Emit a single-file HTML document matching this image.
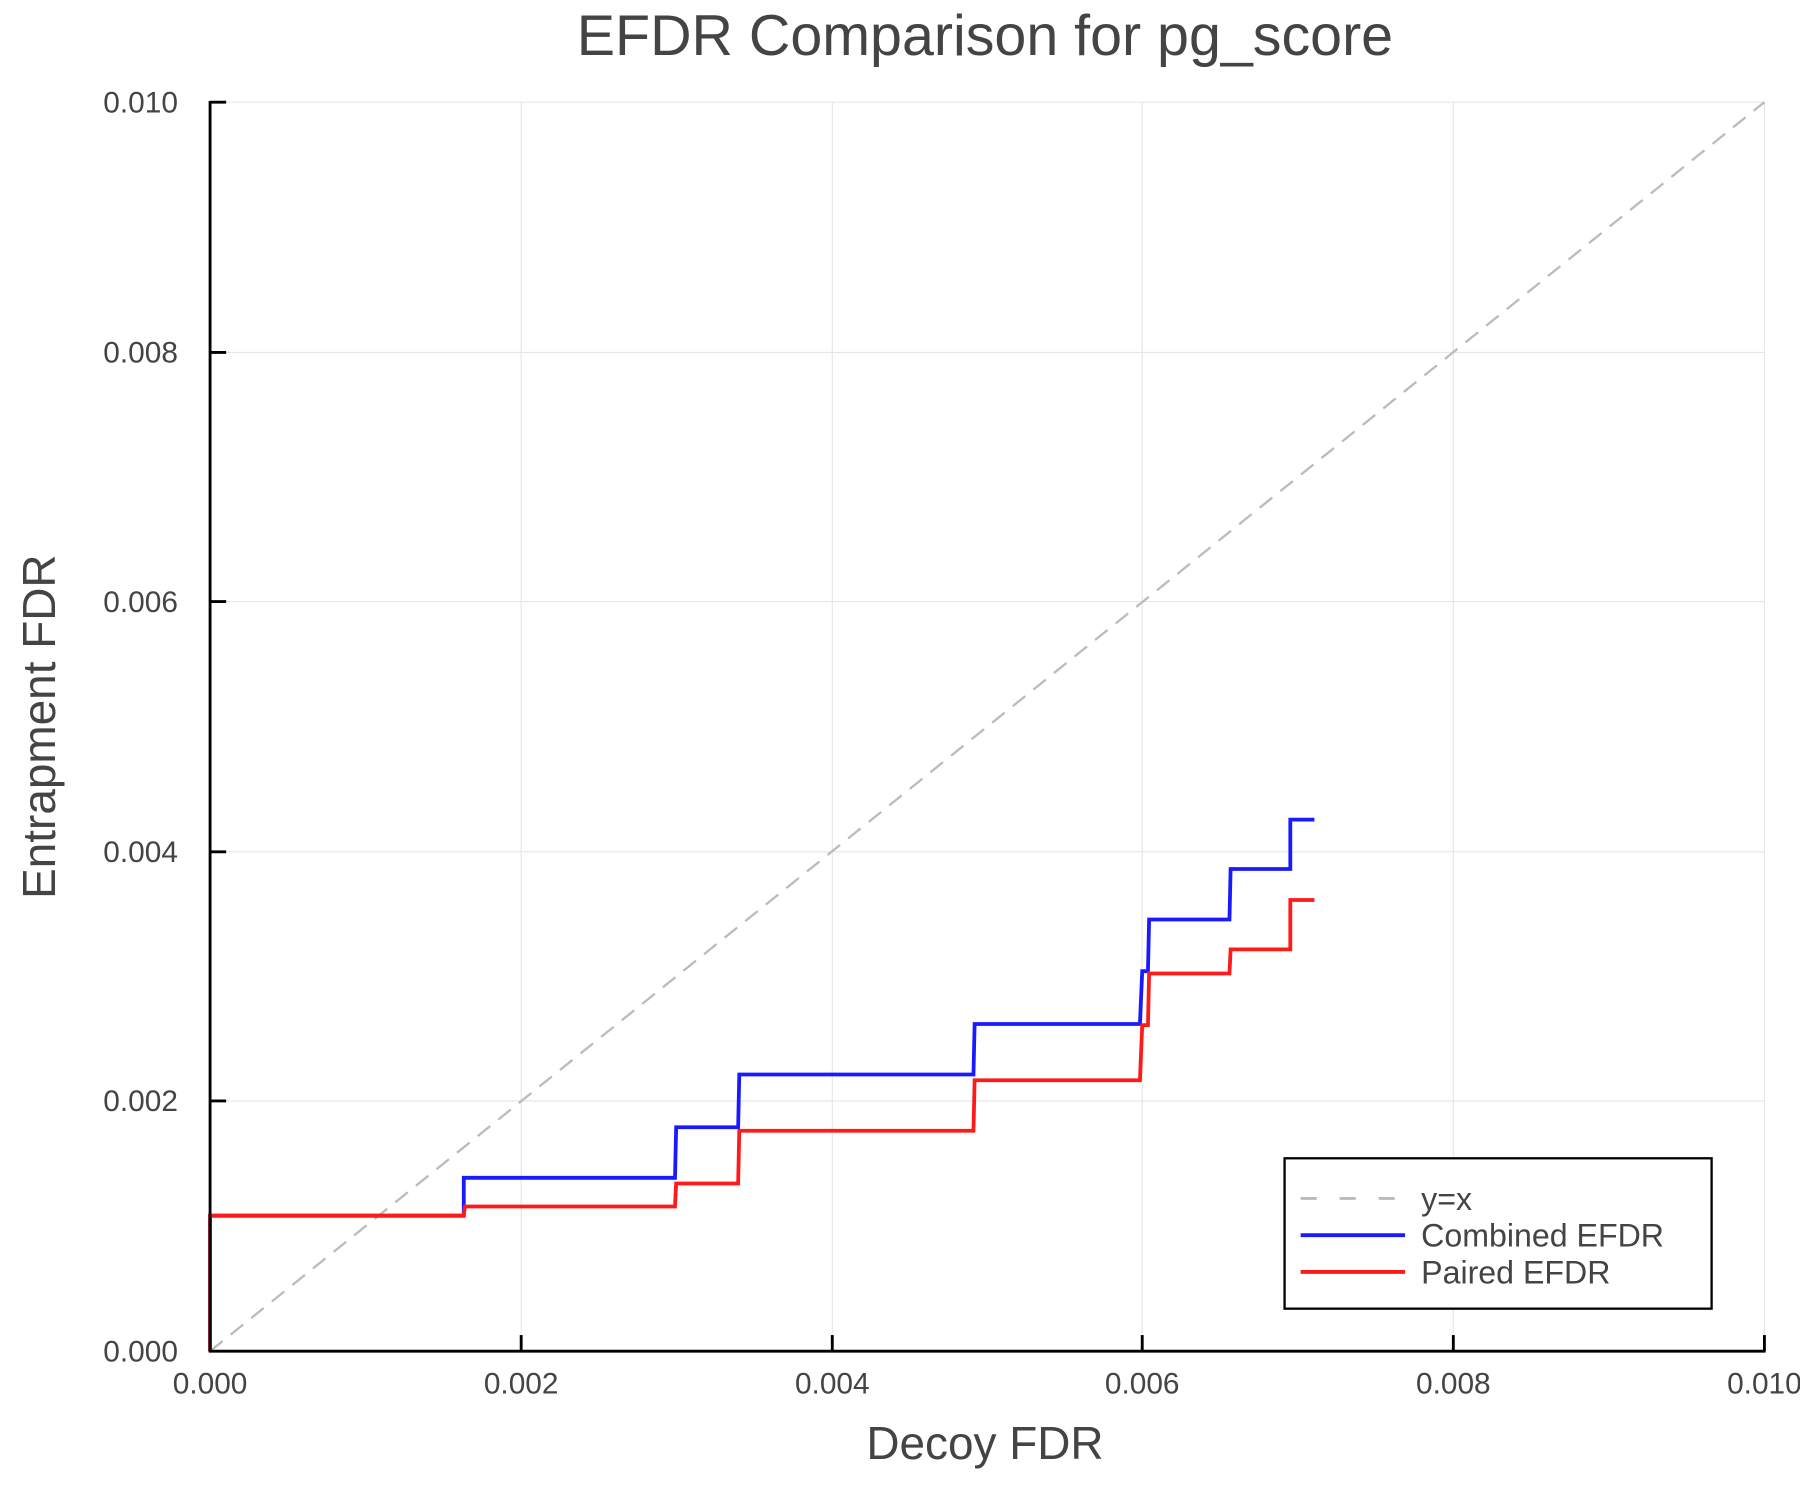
<!DOCTYPE html>
<html><head><meta charset="utf-8"><style>html,body{margin:0;padding:0;background:#fff}svg{display:block}</style></head>
<body>
<svg width="1800" height="1500" viewBox="0 0 1568 1306.67" preserveAspectRatio="none" font-family="Liberation Sans, sans-serif">
<rect width="1568" height="1307" fill="#fff"/>
<g stroke="#e6e6e6" stroke-width="1">
<line x1="454" y1="89" x2="454" y2="1177"/><line x1="725" y1="89" x2="725" y2="1177"/><line x1="995" y1="89" x2="995" y2="1177"/><line x1="1266" y1="89" x2="1266" y2="1177"/><line x1="1537" y1="89" x2="1537" y2="1177"/>
<line x1="183" y1="89" x2="1537" y2="89"/><line x1="183" y1="307" x2="1537" y2="307"/><line x1="183" y1="524" x2="1537" y2="524"/><line x1="183" y1="742" x2="1537" y2="742"/><line x1="183" y1="959" x2="1537" y2="959"/>
</g>
<line x1="183" y1="1177" x2="1537" y2="89" stroke="#bbb" stroke-width="2" stroke-dasharray="14,9"/>
<polyline fill="none" stroke="#1a1aff" stroke-width="3.3" points="183,1177 183,1059 404,1059 404,1026 588,1026 589,982 643,982 644,936 848,936 849,892 993,892 995,846 1000,846 1001,801 1071,801 1072,757 1124,757 1124,714 1145,714"/>
<polyline fill="none" stroke="#ff1a1a" stroke-width="3.3" points="183,1177 183,1059 404,1059 405,1051 588,1051 589,1031 643,1031 644,985 848,985 849,941 993,941 995,893 1000,893 1001,848 1071,848 1072,827 1124,827 1124,784 1145,784"/>
<g stroke="#000" stroke-width="2.5" fill="none">
<line x1="183" y1="88" x2="183" y2="1178"/><line x1="182" y1="1177" x2="1538" y2="1177"/>
<line x1="454" y1="1177" x2="454" y2="1163"/><line x1="725" y1="1177" x2="725" y2="1163"/><line x1="995" y1="1177" x2="995" y2="1163"/><line x1="1266" y1="1177" x2="1266" y2="1163"/><line x1="1537" y1="1177" x2="1537" y2="1163"/>
<line x1="183" y1="89" x2="197" y2="89"/><line x1="183" y1="307" x2="197" y2="307"/><line x1="183" y1="524" x2="197" y2="524"/><line x1="183" y1="742" x2="197" y2="742"/><line x1="183" y1="959" x2="197" y2="959"/>
</g>
<g fill="#444" font-size="26">
<g text-anchor="middle"><text x="183" y="1214">0.000</text><text x="454" y="1214">0.002</text><text x="725" y="1214">0.004</text><text x="995" y="1214">0.006</text><text x="1266" y="1214">0.008</text><text x="1537" y="1214">0.010</text></g>
<g text-anchor="end"><text x="155" y="98">0.010</text><text x="155" y="316">0.008</text><text x="155" y="533">0.006</text><text x="155" y="751">0.004</text><text x="155" y="968">0.002</text><text x="155" y="1186">0.000</text></g>
<text x="858" y="1271" font-size="40" text-anchor="middle">Decoy FDR</text>
<text transform="translate(48,633) rotate(-90)" font-size="40" text-anchor="middle">Entrapment FDR</text>
<text x="858" y="48" font-size="50" text-anchor="middle">EFDR Comparison for pg_score</text>
</g>
<rect x="1119" y="1009" width="372" height="131" fill="#fff" stroke="#000" stroke-width="2"/>
<line x1="1133" y1="1044" x2="1224" y2="1044" stroke="#bbb" stroke-width="2.5" stroke-dasharray="14,20"/>
<line x1="1133" y1="1076" x2="1224" y2="1076" stroke="#1a1aff" stroke-width="3.3"/>
<line x1="1133" y1="1108" x2="1224" y2="1108" stroke="#ff1a1a" stroke-width="3.3"/>
<g fill="#444" font-size="28"><text x="1238" y="1054">y=x</text><text x="1238" y="1086">Combined EFDR</text><text x="1238" y="1118">Paired EFDR</text></g>
</svg>
</body></html>
